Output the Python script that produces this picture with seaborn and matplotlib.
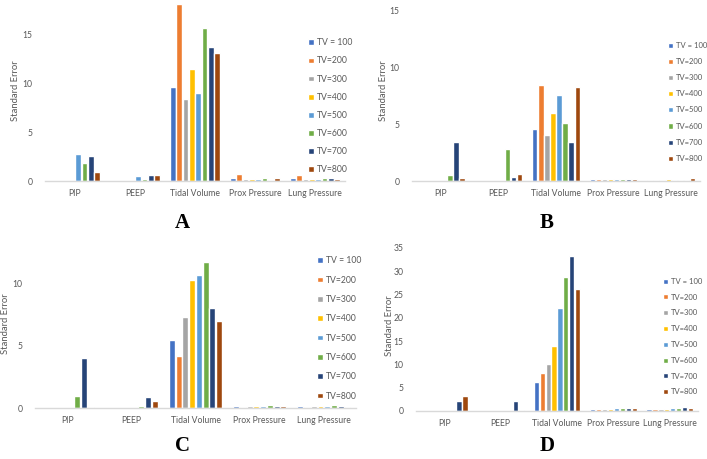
import pandas as pd
import matplotlib
matplotlib.use('Agg')
import matplotlib.pyplot as plt
import seaborn as sns

# Categories and series
params = ['PIP', 'PEEP', 'Tidal Volume', 'Prox Pressure', 'Lung Pressure']
tv_labels = ['TV = 100', 'TV=200', 'TV=300', 'TV=400', 'TV=500', 'TV=600', 'TV=700', 'TV=800']
colors = ['#4472C4', '#ED7D31', '#A5A5A5', '#FFC000', '#5B9BD5', '#70AD47', '#264478', '#9E480E']

# Standard error values, one row per parameter (TV=100..800)
se_a = [[0, 0, 0, 0, 2.76, 1.8, 2.56, 0.92],
        [0, 0, 0, 0, 0.5, 0.2, 0.6, 0.6],
        [9.6, 18.1, 8.4, 11.45, 9.03, 15.6, 13.67, 13.06],
        [0.34, 0.68, 0.2, 0.2, 0.2, 0.27, 0.15, 0.27],
        [0.3, 0.6, 0.2, 0.2, 0.2, 0.27, 0.27, 0.2]]
se_b = [[0, 0, 0, 0, 0, 0.53, 3.4, 0.26],
        [0, 0, 0, 0, 0, 2.82, 0.32, 0.62],
        [4.55, 8.45, 4.05, 5.96, 7.54, 5.1, 3.43, 8.25],
        [0.18, 0.14, 0.16, 0.2, 0.16, 0.16, 0.16, 0.16],
        [0.12, 0.12, 0.12, 0.16, 0.12, 0.12, 0.12, 0.24]]
se_c = [[0, 0, 0, 0, 0, 0.94, 4.03, 0.1],
        [0, 0, 0, 0, 0, 0.19, 0.91, 0.56],
        [5.48, 4.19, 7.28, 10.3, 10.67, 11.75, 8.04, 6.96],
        [0.14, 0.08, 0.18, 0.18, 0.18, 0.25, 0.14, 0.14],
        [0.14, 0.08, 0.18, 0.18, 0.18, 0.25, 0.18, 0.1]]
se_d = [[0, 0, 0, 0, 0, 0, 2.2, 3.2],
        [0, 0, 0, 0, 0, 0, 2.07, 0.2],
        [6.3, 8.1, 10.1, 14.0, 22.1, 28.8, 33.3, 26.1],
        [0.35, 0.35, 0.35, 0.5, 0.55, 0.65, 0.65, 0.55],
        [0.35, 0.35, 0.35, 0.5, 0.65, 0.65, 0.85, 0.65]]

W, H = 707, 459
sns.set_theme(style='white')
plt.rcParams['font.family'] = ['Lato', 'DejaVu Sans']
grey = '#595959'

fig = plt.figure(figsize=(W / 100, H / 100), dpi=100)

# panel: values, letter, box in pixels (left, right, top, bottom), ylim, yticks,
# ylabel x, legend anchor (x, y), legend font size, legend row spacing, letter pos
panels = [
    (se_a, 'A', (45, 345, 0, 181), 18.5, [0, 5, 10, 15], 15, (304, 34), 6.2, 1.06, (182, 223)),
    (se_b, 'B', (412, 700, 0, 181), 15.9, [0, 5, 10, 15], 383, (664, 38), 5.5, 1.2, (547, 223)),
    (se_c, 'C', (35, 356, 240, 408), 13.5, [0, 5, 10], 6, (313, 252), 6.2, 1.2, (182, 446)),
    (se_d, 'D', (416, 698, 240, 411), 36.7, [0, 5, 10, 15, 20, 25, 30, 35], 389, (659, 274), 5.5, 1.15, (547, 446)),
]

for vals, letter, (l, r, t, b), ytop, yticks, ylab_x, (lx, ly), lfs, lsp, (tx, ty) in panels:
    rows = []
    for p, row in zip(params, vals):
        for tv, v in zip(tv_labels, row):
            rows.append({'param': p, 'tv': tv, 'se': v})
    df = pd.DataFrame(rows)

    ax = fig.add_axes([l / W, 1 - b / H, (r - l) / W, (b - t) / H])
    sns.barplot(data=df, x='param', y='se', hue='tv', order=params, hue_order=tv_labels,
                palette=colors, width=0.84, gap=0.12, errorbar=None, saturation=1, ax=ax)
    ax.set_xlim(-0.5, 4.5)
    ax.set_ylim(0, ytop)
    ax.set_yticks(yticks)
    ax.set_xlabel('')
    ax.set_ylabel('Standard Error', fontsize=6.8, color=grey)
    ax.yaxis.set_label_coords((ylab_x - l) / (r - l), 0.5)
    ax.yaxis.label.set_va('center')
    ax.tick_params(length=0, labelsize=6.2, colors=grey)
    ax.tick_params(axis='y', pad=9)
    ax.tick_params(axis='x', pad=6)
    sns.despine(ax=ax, left=True)
    ax.spines['bottom'].set_color('#D9D9D9')
    ax.spines['bottom'].set_linewidth(1)
    ax.set_facecolor('none')

    handles, labels = ax.get_legend_handles_labels()
    ax.get_legend().remove()
    fig.legend(handles, labels, loc='upper left', bbox_to_anchor=(lx / W, 1 - ly / H),
               frameon=False, fontsize=lfs, labelcolor=grey, handlelength=0.65,
               handleheight=0.65, handletextpad=0.4, labelspacing=lsp, borderpad=0)

    fig.text(tx / W, 1 - ty / H, letter, ha='center', va='center', fontsize=15,
             fontweight='bold', family='Liberation Serif', color='black')

fig.savefig('out.png', dpi=100)
